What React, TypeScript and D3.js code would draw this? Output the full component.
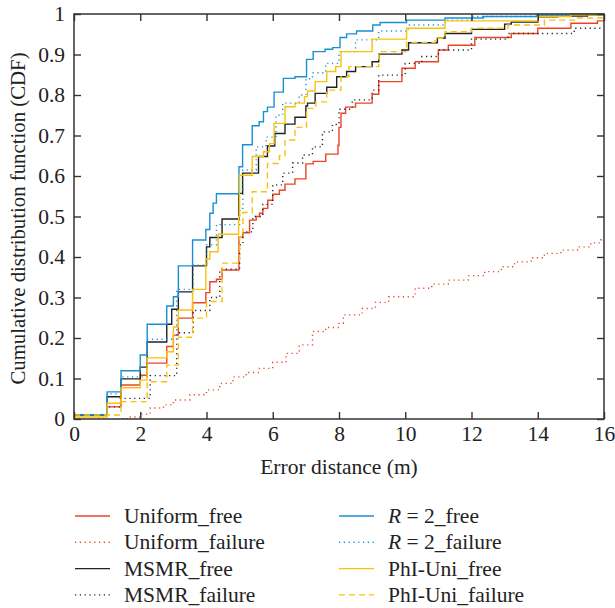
import React, { useEffect, useRef } from "react";
import * as d3 from "d3";

// ---- data: [error distance, cdf] step points
const uniformFree = [
  [0, 0.01], [1.0, 0.03], [1.42, 0.084], [2.0, 0.108], [2.21, 0.138], [2.8, 0.179],
  [3.0, 0.207], [3.15, 0.249], [3.58, 0.287], [3.98, 0.312], [4.1, 0.339], [4.3, 0.345],
  [4.47, 0.368], [4.98, 0.45], [5.1, 0.46], [5.3, 0.491], [5.5, 0.5], [5.6, 0.508],
  [5.7, 0.52], [5.85, 0.54], [6.0, 0.555], [6.2, 0.565], [6.37, 0.58], [6.67, 0.593],
  [7.0, 0.63], [7.22, 0.636], [7.6, 0.654], [7.97, 0.676], [8.0, 0.72], [8.06, 0.755],
  [8.2, 0.77], [8.5, 0.78], [9.0, 0.802], [9.2, 0.833], [9.9, 0.866], [10.3, 0.882],
  [11.0, 0.911], [11.3, 0.923], [12.1, 0.942], [13.2, 0.952], [14.0, 0.965],
  [15.0, 0.977], [15.8, 0.983]
];
const uniformFailure = [
  [0, 0], [1.6, 0.005], [2.0, 0.012], [2.3, 0.027], [2.7, 0.035], [3.0, 0.047],
  [3.5, 0.06], [4.0, 0.072], [4.4, 0.088], [4.8, 0.104], [5.2, 0.115], [5.6, 0.125],
  [6.0, 0.14], [6.4, 0.162], [6.8, 0.183], [7.2, 0.216], [7.6, 0.226], [8.0, 0.236],
  [8.13, 0.257], [8.7, 0.273], [9.1, 0.288], [9.5, 0.302], [10.3, 0.323], [10.8, 0.333],
  [11.3, 0.343], [11.9, 0.354], [12.4, 0.364], [12.9, 0.376], [13.3, 0.388],
  [13.8, 0.398], [14.2, 0.409], [14.7, 0.417], [15.2, 0.425], [15.6, 0.435], [15.9, 0.442]
];
const msmrFree = [
  [0, 0.01], [1.0, 0.055], [1.42, 0.099], [2.0, 0.128], [2.21, 0.19], [2.8, 0.234],
  [2.95, 0.271], [3.15, 0.314], [3.58, 0.378], [4.0, 0.425], [4.1, 0.448], [4.47, 0.494],
  [4.98, 0.557], [5.09, 0.607], [5.57, 0.648], [5.84, 0.674], [6.06, 0.705], [6.37, 0.728],
  [6.67, 0.745], [7.0, 0.773], [7.05, 0.78], [7.28, 0.804], [7.63, 0.819], [7.93, 0.845],
  [8.23, 0.858], [8.5, 0.87], [9.0, 0.882], [9.2, 0.901], [9.9, 0.911], [10.1, 0.929],
  [10.97, 0.94], [11.2, 0.952], [12.0, 0.962], [13.0, 0.975], [13.2, 0.98], [14.0, 0.993],
  [14.6, 0.995], [15.5, 0.998]
];
const msmrFailure = [
  [0, 0.01], [1.0, 0.03], [1.4, 0.051], [2.3, 0.107], [3.1, 0.213], [3.6, 0.268],
  [4.1, 0.3], [4.4, 0.37], [5.0, 0.43], [5.1, 0.462], [5.4, 0.5], [5.7, 0.53], [6.0, 0.578],
  [6.3, 0.607], [6.6, 0.632], [6.9, 0.652], [7.2, 0.672], [7.5, 0.709], [7.8, 0.727],
  [8.0, 0.765], [8.4, 0.788], [9.0, 0.812], [9.2, 0.849], [10.0, 0.878], [10.5, 0.895],
  [11.0, 0.911], [12.0, 0.938], [13.1, 0.952], [15.1, 0.965]
];
const r2Free = [
  [0, 0.01], [1.0, 0.067], [1.42, 0.119], [2.0, 0.158], [2.21, 0.234], [2.8, 0.279],
  [3.0, 0.302], [3.15, 0.378], [3.58, 0.442], [3.98, 0.468], [4.1, 0.508], [4.2, 0.533],
  [4.3, 0.556], [4.98, 0.623], [5.09, 0.677], [5.38, 0.724], [5.59, 0.734], [5.72, 0.759],
  [5.84, 0.77], [6.04, 0.807], [6.32, 0.841], [6.67, 0.845], [7.02, 0.888], [7.22, 0.907],
  [7.58, 0.913], [7.81, 0.917], [8.03, 0.942], [8.23, 0.951], [8.53, 0.958], [9.02, 0.973],
  [9.24, 0.979], [10.04, 0.985], [11.2, 0.99], [12.36, 0.994], [13.97, 0.997], [15.0, 1.0]
];
const r2Failure = [
  [0, 0.01], [1.0, 0.062], [1.42, 0.104], [2.2, 0.197], [3.1, 0.32], [3.6, 0.38],
  [4.0, 0.43], [4.3, 0.48], [5.0, 0.52], [5.1, 0.615], [5.5, 0.672], [5.8, 0.696],
  [6.1, 0.75], [6.3, 0.78], [6.8, 0.8], [7.0, 0.84], [7.2, 0.855], [7.6, 0.878],
  [8.0, 0.907], [8.5, 0.936], [9.2, 0.958], [10.1, 0.973], [11.2, 0.985], [12.0, 0.994],
  [14.0, 1.0]
];
const phiFree = [
  [0, 0.005], [1.0, 0.039], [1.42, 0.077], [2.0, 0.096], [2.21, 0.151], [2.8, 0.166],
  [3.0, 0.227], [3.15, 0.269], [3.58, 0.32], [3.98, 0.395], [4.1, 0.413], [4.35, 0.456],
  [4.97, 0.5], [5.0, 0.602], [5.38, 0.648], [5.72, 0.66], [5.9, 0.68], [6.04, 0.73],
  [6.37, 0.771], [6.67, 0.78], [6.96, 0.796], [7.05, 0.81], [7.28, 0.833], [7.63, 0.858],
  [7.9, 0.87], [8.06, 0.907], [9.0, 0.938], [10.04, 0.965], [11.2, 0.983], [14.0, 0.994],
  [15.0, 0.998]
];
const phiFailure = [
  [0, 0.01], [1.42, 0.043], [2.21, 0.092], [2.8, 0.133], [3.15, 0.202], [3.58, 0.249],
  [4.0, 0.29], [4.47, 0.385], [5.0, 0.45], [5.1, 0.51], [5.38, 0.561], [5.84, 0.631],
  [6.2, 0.65], [6.37, 0.689], [6.67, 0.72], [7.02, 0.767], [7.3, 0.783], [7.63, 0.812],
  [8.06, 0.845], [8.3, 0.87], [9.2, 0.907], [10.04, 0.93], [10.9, 0.94], [11.2, 0.956],
  [12.0, 0.965], [13.1, 0.973], [14.2, 0.985], [15.2, 0.99]
];

const seriesNames = [
  "Uniform_free", "Uniform_failure", "MSMR_free", "MSMR_failure",
  "R = 2_free", "R = 2_failure", "PhI-Uni_free", "PhI-Uni_failure"
];
const seriesData = [
  uniformFree, uniformFailure, msmrFree, msmrFailure,
  r2Free, r2Failure, phiFree, phiFailure
];
const xTicks = [0, 2, 4, 6, 8, 10, 12, 14, 16];
const yTicks = [0, 0.1, 0.2, 0.3, 0.4, 0.5, 0.6, 0.7, 0.8, 0.9, 1];

// styles
const colors = ["#ec4329", "#ec4329", "#222222", "#222222", "#1a90d4", "#1a90d4", "#f8c20c", "#f8c20c"];
const dashes = [null, "1.2,3.6", null, "1.2,3.6", null, "1.2,3.6", null, "6,4"];

const FONT = "'Liberation Serif', 'DejaVu Serif', serif";
const FS = 21.5;

const App = () => {
  const svgRef = useRef<SVGSVGElement>(null);

  useEffect(() => {
    const margin = { top: 14, right: 11, bottom: 189, left: 74 };
    const W = 615;
    const H = 608;
    const width = W - margin.left - margin.right;
    const height = H - margin.top - margin.bottom;

    const svg = d3.select(svgRef.current);
    svg.selectAll("*").remove();

    const x = d3.scaleLinear().domain([0, 16]).range([margin.left, margin.left + width]);
    const y = d3.scaleLinear().domain([0, 1]).range([margin.top + height, margin.top]);

    svg.append("defs").append("clipPath").attr("id", "plot")
      .append("rect")
      .attr("x", margin.left).attr("y", margin.top - 2)
      .attr("width", width).attr("height", height + 2);

    // ---- curves
    const line = d3.line<number[]>()
      .x(d => x(d[0]))
      .y(d => y(d[1]))
      .curve(d3.curveStepAfter);

    const g = svg.append("g").attr("clip-path", "url(#plot)");
    seriesData.forEach((s, i) => {
      const pts = [...s, [16, s[s.length - 1][1]]];
      g.append("path")
        .attr("d", line(pts))
        .attr("fill", "none")
        .attr("stroke", colors[i])
        .attr("stroke-width", 1.4)
        .attr("stroke-dasharray", dashes[i]);
    });

    // ---- axes (ticks inside, on all four sides)
    const axisStyle = (sel: any) => {
      sel.select(".domain").remove();
      sel.selectAll("line").attr("stroke", "#333").attr("stroke-width", 1.4);
      sel.selectAll("text")
        .attr("font-family", FONT)
        .attr("font-size", FS)
        .attr("fill", "#222");
    };
    const fmt = (d: number) => String(Math.round(d * 10) / 10);

    svg.append("g")
      .attr("transform", `translate(0,${margin.top + height})`)
      .call(d3.axisBottom(x).tickValues(xTicks).tickSize(-7).tickPadding(7).tickFormat(d => String(d)))
      .call(axisStyle);
    svg.append("g")
      .attr("transform", `translate(0,${margin.top})`)
      .call(d3.axisTop(x).tickValues(xTicks).tickSize(-7).tickFormat(() => ""))
      .call(axisStyle);
    svg.append("g")
      .attr("transform", `translate(${margin.left},0)`)
      .call(d3.axisLeft(y).tickValues(yTicks).tickSize(-7).tickPadding(9).tickFormat(d => fmt(d as number)))
      .call(axisStyle);
    svg.append("g")
      .attr("transform", `translate(${margin.left + width},0)`)
      .call(d3.axisRight(y).tickValues(yTicks).tickSize(-7).tickFormat(() => ""))
      .call(axisStyle);

    svg.append("rect")
      .attr("x", margin.left).attr("y", margin.top)
      .attr("width", width).attr("height", height)
      .attr("fill", "none").attr("stroke", "#333").attr("stroke-width", 1.5);

    // ---- axis titles
    svg.append("text")
      .attr("x", margin.left + width / 2).attr("y", margin.top + height + 55)
      .attr("text-anchor", "middle")
      .attr("font-family", FONT).attr("font-size", FS).attr("fill", "#222")
      .text("Error distance (m)");
    svg.append("text")
      .attr("transform", `translate(25,${margin.top + height / 2 + 2}) rotate(-90)`)
      .attr("text-anchor", "middle")
      .attr("font-family", FONT).attr("font-size", 20.8).attr("fill", "#222")
      .text("Cumulative distribution function (CDF)");

    // ---- legend, two columns of four
    const legend = svg.append("g");
    seriesNames.forEach((name, i) => {
      const col = Math.floor(i / 4);
      const row = i % 4;
      const lx = col === 0 ? 75 : 339;
      const ly = 516 + row * 26.3;
      legend.append("line")
        .attr("x1", lx).attr("x2", lx + 35).attr("y1", ly).attr("y2", ly)
        .attr("stroke", colors[i]).attr("stroke-width", 1.4)
        .attr("stroke-dasharray", dashes[i]);
      const t = legend.append("text")
        .attr("x", lx + 49).attr("y", ly + 7)
        .attr("font-family", FONT).attr("font-size", FS).attr("fill", "#222");
      if (name.startsWith("R = ")) {
        t.append("tspan").attr("font-style", "italic").text("R");
        t.append("tspan").text(name.slice(1));
      } else {
        t.text(name);
      }
    });
  }, []);

  return (
    <svg
      ref={svgRef}
      width={615}
      height={608}
      style={{ position: "absolute", left: 0, top: 0, background: "#fff" }}
    />
  );
};

export default App;
